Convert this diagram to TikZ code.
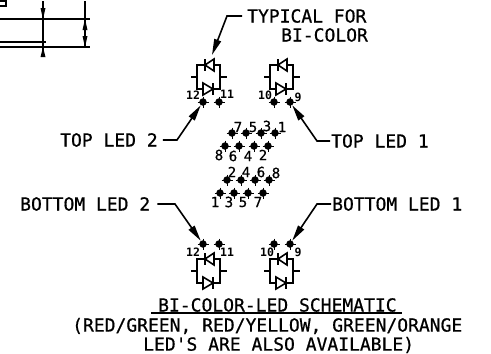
\documentclass[tikz,border=0pt]{standalone}
\usepackage{fontspec}
\setmainfont{DejaVu Sans Mono}
\newfontfamily\cadfont{DejaVu Sans Mono}[FakeBold=0.7]
\usetikzlibrary{arrows.meta}
\tikzset{
  x=1pt,y=-1pt,
  ln/.style={line width=1.6pt,black},
  lead/.style={line width=1.6pt,black,-{Stealth[length=16pt,width=7pt,inset=0pt]}},
  lab/.style={inner sep=0pt,font=\cadfont\fontsize{18}{18}\selectfont,anchor=west},
  pinlab/.style={inner sep=0pt,font=\rmfamily\bfseries\fontsize{11.5}{11.5}\selectfont},
  midlab/.style={inner sep=0pt,font=\cadfont\fontsize{14}{14}\selectfont},
  pin/.style={circle,fill=black,inner sep=0pt,minimum size=7.5pt},
  tick/.style={line width=.7pt,black},
}
\newcommand{\leds}[2]{%
  \begin{scope}[shift={(#1,#2)}]
    \draw[ln] (-9,0) -- (-3,0) (-3,-12) rectangle (20,12) (20,0) -- (27,0);
    \filldraw[ln,fill=white] (5,-12) -- (14,-18) -- (14,-6) -- cycle;
    \draw[ln] (5,-18) -- (5,-6);
    \filldraw[ln,fill=white] (3,6) -- (13,12) -- (3,18) -- cycle;
    \draw[ln] (13,6) -- (13,18);
  \end{scope}}
\begin{document}
\begin{tikzpicture}
\useasboundingbox (0,0) rectangle (491,354);
% fragment of the drawing at the top left
\draw[ln] (0,19) -- (90,19) (0,42) -- (46,42) (0,47) -- (90,47) (43,1) -- (43,56) (85,1) -- (85,47);
\draw[ln] (0,1) -- (6,1) -- (6,6) -- (0,6);
\fill (40.5,8) -- (45.5,8) -- (43,19) -- cycle;
\fill (40.5,57) -- (45.5,57) -- (43,47) -- cycle;
\fill (82.5,30) -- (87.5,30) -- (85,19) -- cycle;
\fill (82.5,36) -- (87.5,36) -- (85,47) -- cycle;
% LED symbols
\leds{200}{77}
\leds{273}{77}
\leds{200}{271}
\leds{273}{271}
% pins
\foreach \n/\x/\y in {a/203/102,b/219/102,c/274/102,d/290/102,
  e/203/244,f/219/244,g/274/244,h/290/244,
  r1a/232/133,r1b/246/133,r1c/261/133,r1d/275/133,
  r2a/225/146,r2b/239/146,r2c/254/146,r2d/268/146,
  r3a/227/180,r3b/241/180,r3c/255/180,r3d/269/180,
  r4a/220/193,r4b/234/193,r4c/248/193,r4d/263/193}{
  \node[pin] (\n) at (\x,\y) {};
  \draw[tick] (\x-5.5,\y) -- (\x+5.5,\y) (\x,\y-5.5) -- (\x,\y+5.5);
}
% pin labels
\foreach \t/\x/\y in {12/193/95,11/227/94,10/265/95,9/298/97,12/193/252,11/227/252,10/267/252,9/298/252}
  \node[pinlab] (pl\x\y) at (\x,\y) {\t};
\foreach \t/\x/\y in {7/238/127,5/253/127,3/267/126,1/282/127,
  8/219/155,6/233/156,4/248/156,2/263/155,
  2/232/172,4/246/172,6/261/172,8/276/173,
  1/215/202,3/229/202,5/243/202,7/258/202}
  \node[midlab] (ml\x\y) at (\x,\y) {\t};
% labels
\node[lab] (typ) at (247,16) {TYPICAL FOR};
\node[lab] (bic) at (281,35) {BI-COLOR};
\node[lab] (tl2) at (60,140) {TOP LED 2};
\node[lab] (tl1) at (331,141) {TOP LED 1};
\node[lab] (bl2) at (20,204) {BOTTOM LED 2};
\node[lab] (bl1) at (332,204) {BOTTOM LED 1};
\node[lab] (ttl) at (158,305) {BI-COLOR-LED SCHEMATIC};
\node[lab] (n1) at (72,326) {(RED/GREEN, RED/YELLOW, GREEN/ORANGE};
\node[lab] (n2) at (143,345) {LED'S ARE ALSO AVAILABLE)};
\draw[line width=1.7pt] (151,313) -- (402,313);
% leaders
\coordinate (t0) at (212,55);
\draw[lead] (typ.west)++(-5,0) -- (227,16) -- (t0);
\draw[lead] (tl2.east)++(5,0) -- (177,140) -- (a);
\draw[lead] (tl1.west)++(-1,0) -- (317,141) -- (d);
\draw[lead] (bl2.east)++(7,0) -- (175,204) -- (e);
\draw[lead] (bl1.west)++(-1,0) -- (317,204) -- (h);
\end{tikzpicture}
\end{document}
